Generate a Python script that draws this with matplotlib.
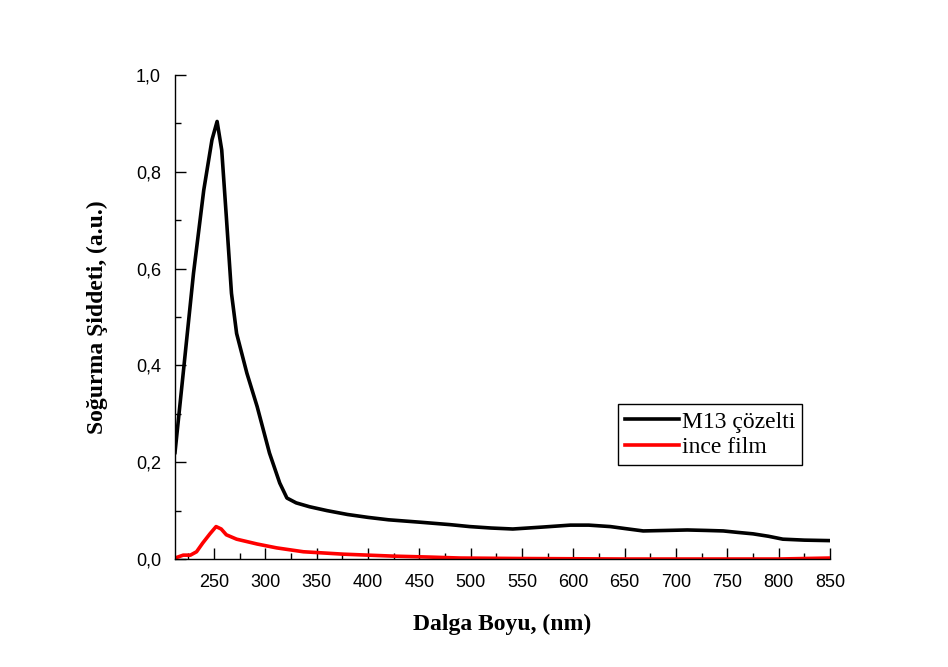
import matplotlib
matplotlib.use('Agg')
import matplotlib.pyplot as plt
from matplotlib.ticker import MultipleLocator, FuncFormatter

# M13 solution (black)
sol_nm = [212, 220, 230, 240, 248, 253, 257.5, 262, 267, 272, 282, 292, 304, 314, 321,
          330, 343, 360, 380, 400, 420, 451, 480, 499, 520, 541, 570, 597, 615, 636,
          650, 668, 690, 711, 730, 746, 760, 775, 790, 804, 825, 850]
sol_abs = [0.22, 0.384, 0.59, 0.762, 0.866, 0.904, 0.845, 0.707, 0.549, 0.466, 0.384,
           0.315, 0.219, 0.157, 0.126, 0.116, 0.108, 0.100, 0.092, 0.086, 0.081, 0.076,
           0.071, 0.067, 0.064, 0.062, 0.066, 0.070, 0.070, 0.067, 0.063, 0.058, 0.059,
           0.060, 0.059, 0.058, 0.055, 0.052, 0.047, 0.041, 0.039, 0.038]

# thin film (red)
film_nm = [212, 220, 227, 233, 239, 246, 252, 257, 262, 272, 292, 311, 337, 376, 424,
           460, 490, 550, 650, 750, 800, 850]
film_abs = [0.002, 0.008, 0.008, 0.015, 0.033, 0.052, 0.067, 0.062, 0.050, 0.041,
            0.031, 0.023, 0.015, 0.010, 0.006, 0.004, 0.002, 0.001, 0.0, 0.0, 0.0, 0.002]

fig = plt.figure(figsize=(9.48, 6.67), dpi=100)
ax = fig.add_axes([0.1846, 0.1619, 0.691, 0.7257])

ax.plot(sol_nm, sol_abs, color='black', linewidth=2.6, label='M13 çözelti',
        solid_joinstyle='round')
ax.plot(film_nm, film_abs, color='red', linewidth=2.6, label='ince film',
        solid_joinstyle='round')

ax.set_xlim(212, 850)
ax.set_ylim(0, 1.0)
ax.xaxis.set_major_locator(MultipleLocator(50))
ax.xaxis.set_minor_locator(MultipleLocator(25))
ax.yaxis.set_major_locator(MultipleLocator(0.2))
ax.yaxis.set_minor_locator(MultipleLocator(0.1))
ax.yaxis.set_major_formatter(FuncFormatter(lambda v, p: f'{v:.1f}'.replace('.', ',')))

for s in ['top', 'right']:
    ax.spines[s].set_visible(False)
for s in ['left', 'bottom']:
    ax.spines[s].set_linewidth(1.0)

ax.tick_params(which='major', direction='in', length=8, width=1.0,
               labelsize=13, pad=10)
ax.tick_params(axis='x', pad=11)
ax.tick_params(which='minor', direction='in', length=4, width=1.0)
for lbl in ax.get_xticklabels() + ax.get_yticklabels():
    lbl.set_family('Liberation Sans')

ax.set_xlabel('Dalga Boyu, (nm)', family='Liberation Serif', fontweight='bold',
              fontsize=17, labelpad=16)
ax.set_ylabel('Soğurma Şiddeti, (a.u.)', family='Liberation Serif', fontweight='bold',
              fontsize=17, labelpad=20)

leg = ax.legend(loc='upper left', bbox_to_anchor=(0.676, 0.32), fancybox=False,
                edgecolor='black', framealpha=1, handlelength=2.3, handletextpad=0.1,
                borderpad=0.3, labelspacing=0.15, borderaxespad=0,
                prop={'family': 'Liberation Serif', 'size': 17})
leg.get_frame().set_linewidth(1.0)

fig.savefig('out.png', dpi=100)
